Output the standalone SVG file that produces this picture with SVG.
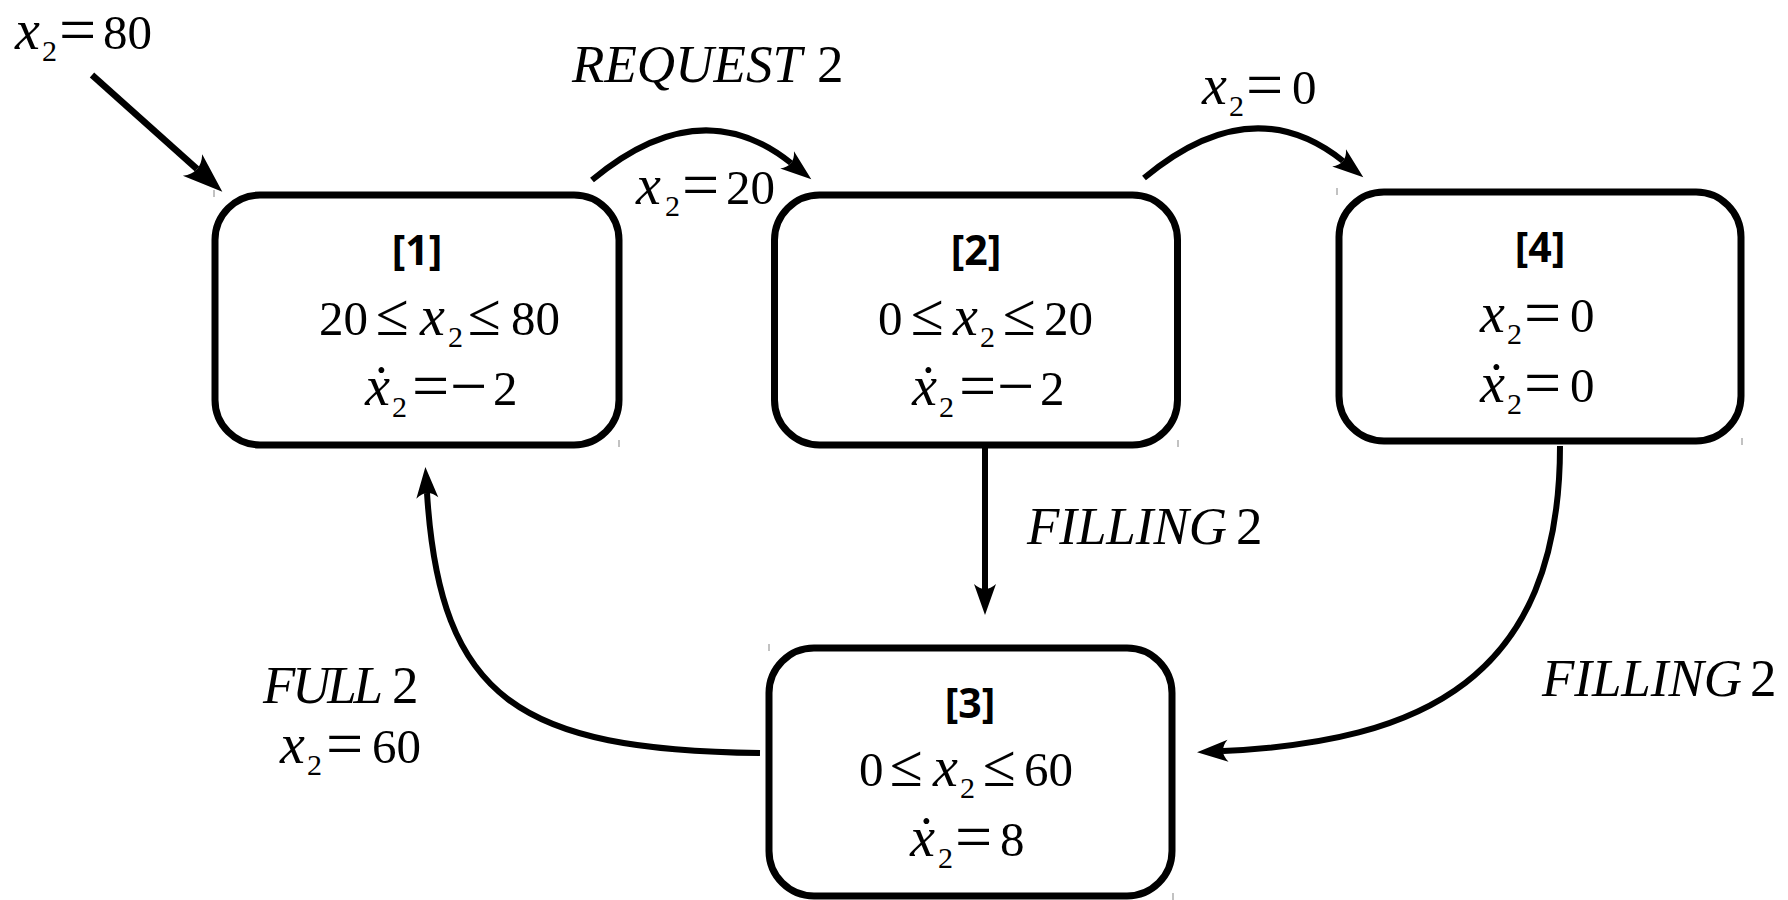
<svg xmlns="http://www.w3.org/2000/svg" width="1788" height="900" viewBox="0 0 1788 900">
  <style>
    .box { fill: #fff; stroke: #000; stroke-width: 7; }
    .tick { stroke: #999; stroke-width: 1.2; }
    .edge { fill: none; stroke: #000; stroke-width: 6; }
    .num { font-family: "Open Sans", "Noto Sans", sans-serif; font-weight: 700; font-size: 41px; text-anchor: middle; fill: #000; }
    .m { font-family: "Liberation Serif", "DejaVu Serif", serif; font-size: 49px; fill: #000; }
    .mx { font-family: "Liberation Serif", "DejaVu Serif", serif; font-style: italic; font-size: 56px; }
    .eq { font-family: "Liberation Serif", "DejaVu Serif", serif; font-size: 66px; }
    .le { font-family: "Liberation Serif", "DejaVu Serif", serif; font-size: 60px; }
    .sub { font-family: "Liberation Serif", "DejaVu Serif", serif; font-size: 30px; }
    .lbl { font-family: "Liberation Serif", "DejaVu Serif", serif; font-size: 53px; fill: #000; }
    .it { font-style: italic; }
  </style>
  <defs>
    <marker id="ah" markerUnits="userSpaceOnUse" orient="auto" refX="5" refY="0" markerWidth="40" markerHeight="30" overflow="visible">
      <path d="M0,-11 L31,0 L0,11 Q10,0 0,-11 Z" fill="#000"/>
    </marker>
    <marker id="ahb" markerUnits="userSpaceOnUse" orient="auto" refX="6" refY="0" markerWidth="50" markerHeight="36" overflow="visible">
      <path d="M0,-14.5 L40,0 L0,14.5 Q12,0 0,-14.5 Z" fill="#000"/>
    </marker>
  </defs>

  <!-- transitions -->
  <g id="connectors">
    <path class="edge" style="stroke-width:6.5" d="M92,75 L197,169" marker-end="url(#ahb)"/>
    <path class="edge" d="M592,180 Q700,90 791,163" marker-end="url(#ah)"/>
    <path class="edge" d="M1144,178 Q1252,88 1343,161" marker-end="url(#ah)"/>
    <path class="edge" d="M985,448 L985,589" marker-end="url(#ah)"/>
    <path class="edge" d="M760,753 C520,750 440,700 427,493" marker-end="url(#ah)"/>
    <path class="edge" d="M1560,446 C1560,680 1420,742 1223,751" marker-end="url(#ah)"/>
  </g>

  <!-- transition labels -->
  <g id="labels">
    <text class="m" y="49"><tspan class="mx" x="15">x</tspan><tspan class="sub" x="42" dy="12">2</tspan><tspan class="eq" x="59" dy="-9">=</tspan><tspan x="103" dy="-3">80</tspan></text>
    <text class="lbl" y="82"><tspan class="it" x="572" textLength="230">REQUEST</tspan><tspan x="817">2</tspan></text>
    <text class="m" y="204"><tspan class="mx" x="636">x</tspan><tspan class="sub" x="665" dy="12">2</tspan><tspan class="eq" x="682" dy="-9">=</tspan><tspan x="726" dy="-3">20</tspan></text>
    <text class="m" y="104"><tspan class="mx" x="1202">x</tspan><tspan class="sub" x="1229" dy="12">2</tspan><tspan class="eq" x="1246" dy="-9">=</tspan><tspan x="1292" dy="-3">0</tspan></text>
    <text class="lbl" y="544"><tspan class="it" x="1027" textLength="200">FILLING</tspan><tspan x="1236">2</tspan></text>
    <text class="lbl" y="696"><tspan class="it" x="1542" textLength="200">FILLING</tspan><tspan x="1750">2</tspan></text>
    <text class="lbl" y="703"><tspan class="it" x="263" textLength="120">FULL</tspan><tspan x="392">2</tspan></text>
    <text class="m" y="763"><tspan class="mx" x="280">x</tspan><tspan class="sub" x="307" dy="12">2</tspan><tspan class="eq" x="326" dy="-9">=</tspan><tspan x="372" dy="-3">60</tspan></text>
  </g>

  <!-- state 1 -->
  <g id="state1">
    <rect class="box" x="215" y="195" width="404" height="250" rx="45"/>
    <line class="tick" x1="214" y1="190" x2="214" y2="197"/>
    <line class="tick" x1="619" y1="440" x2="619" y2="447"/>
    <text class="num" x="417" y="265">[1]</text>
    <text class="m" y="335"><tspan x="319">20</tspan><tspan class="le" x="376">≤</tspan><tspan class="mx" x="420">x</tspan><tspan class="sub" x="448" dy="12">2</tspan><tspan class="le" x="468" dy="-12">≤</tspan><tspan x="511">80</tspan></text>
    <text class="m" y="405"><tspan class="mx" x="365">ẋ</tspan><tspan class="sub" x="392" dy="12">2</tspan><tspan class="eq" x="412" dy="-9">=</tspan><tspan class="eq" x="450">−</tspan><tspan x="493" dy="-3">2</tspan></text>
  </g>

  <!-- state 2 -->
  <g id="state2">
    <rect class="box" x="774.5" y="195" width="403" height="250" rx="45"/>
    <line class="tick" x1="1178" y1="440" x2="1178" y2="447"/>
    <text class="num" x="976" y="265">[2]</text>
    <text class="m" y="335"><tspan x="878">0</tspan><tspan class="le" x="911">≤</tspan><tspan class="mx" x="953">x</tspan><tspan class="sub" x="980" dy="12">2</tspan><tspan class="le" x="1003" dy="-12">≤</tspan><tspan x="1044">20</tspan></text>
    <text class="m" y="405"><tspan class="mx" x="912">ẋ</tspan><tspan class="sub" x="939" dy="12">2</tspan><tspan class="eq" x="959" dy="-9">=</tspan><tspan class="eq" x="997">−</tspan><tspan x="1040" dy="-3">2</tspan></text>
  </g>

  <!-- state 4 -->
  <g id="state4">
    <rect class="box" x="1339" y="192" width="402" height="249" rx="45"/>
    <line class="tick" x1="1337" y1="188" x2="1337" y2="195"/>
    <line class="tick" x1="1742" y1="438" x2="1742" y2="445"/>
    <text class="num" x="1540" y="262">[4]</text>
    <text class="m" y="332"><tspan class="mx" x="1480">x</tspan><tspan class="sub" x="1507" dy="12">2</tspan><tspan class="eq" x="1524" dy="-9">=</tspan><tspan x="1570" dy="-3">0</tspan></text>
    <text class="m" y="402"><tspan class="mx" x="1480">ẋ</tspan><tspan class="sub" x="1507" dy="12">2</tspan><tspan class="eq" x="1524" dy="-9">=</tspan><tspan x="1570" dy="-3">0</tspan></text>
  </g>

  <!-- state 3 -->
  <g id="state3">
    <rect class="box" x="769" y="648" width="403" height="248" rx="45"/>
    <line class="tick" x1="769" y1="644" x2="769" y2="651"/>
    <line class="tick" x1="1173" y1="893" x2="1173" y2="900"/>
    <text class="num" x="970" y="718">[3]</text>
    <text class="m" y="786"><tspan x="859">0</tspan><tspan class="le" x="890">≤</tspan><tspan class="mx" x="933">x</tspan><tspan class="sub" x="960" dy="12">2</tspan><tspan class="le" x="983" dy="-12">≤</tspan><tspan x="1024">60</tspan></text>
    <text class="m" y="856"><tspan class="mx" x="910">ẋ</tspan><tspan class="sub" x="938" dy="12">2</tspan><tspan class="eq" x="955" dy="-9">=</tspan><tspan x="1000" dy="-3">8</tspan></text>
  </g>
</svg>
